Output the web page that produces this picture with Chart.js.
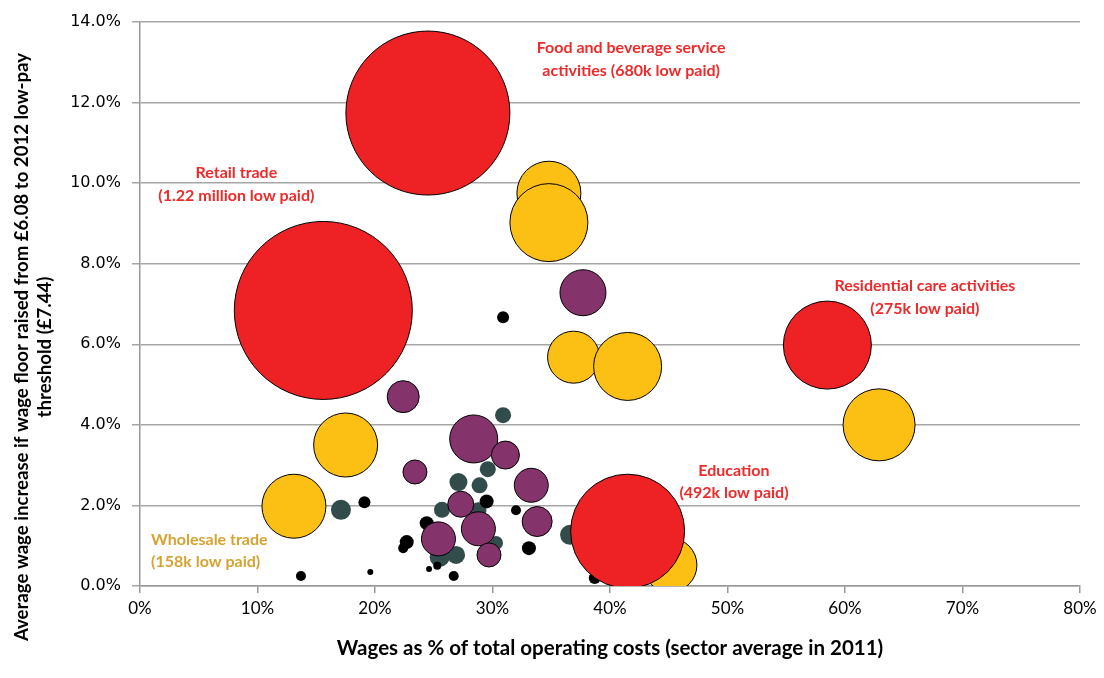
<!DOCTYPE html>
<html>
<head>
<meta charset="utf-8">
<script src="https://cdn.jsdelivr.net/npm/chart.js@4"></script>
<style>
  html, body { margin: 0; padding: 0; background: #fff; }
  #wrap { width: 1104px; height: 678px; }
</style>
</head>
<body>
<div id="wrap"><canvas id="chart"></canvas></div>
<script>
// wages as % of operating costs (x), avg wage increase % (y), bubble size (radius)
const redX = [24.5, 15.6, 58.5, 41.5];
const redY = [11.74, 6.84, 5.98, 1.36];
const redR = [82, 89, 44, 57];

const goldX = [34.8, 34.8, 36.9, 41.5, 62.9, 17.5, 13.1, 45.1];
const goldY = [9.75, 9.02, 5.68, 5.45, 4.0, 3.5, 1.98, 0.52];
const goldR = [32, 39, 26, 34, 36, 32, 32, 27];

const purpleX = [37.7, 22.4, 28.4, 31.1, 23.4, 33.3, 27.3, 33.8, 28.8, 25.4, 29.7];
const purpleY = [7.28, 4.7, 3.65, 3.25, 2.83, 2.5, 2.03, 1.6, 1.42, 1.17, 0.77];
const purpleR = [23, 16, 24, 14, 12, 17, 13, 15, 17, 17, 12];

const tealX = [30.9, 29.6, 27.1, 28.9, 17.1, 25.7, 28.8, 30.3, 26.9, 25.5, 36.6, 46.6, 24.8];
const tealY = [4.24, 2.9, 2.58, 2.5, 1.89, 1.89, 1.88, 1.07, 0.77, 0.72, 1.27, 0.7, 1.35];
const tealR = [8, 8, 9, 8, 10, 8, 8, 7, 9, 10, 10, 8, 8];

const blackX = [30.9, 19.1, 29.5, 32.0, 24.4, 22.7, 22.4, 33.1, 19.6, 24.6, 25.3, 26.7, 13.7, 38.7];
const blackY = [6.67, 2.08, 2.1, 1.88, 1.56, 1.09, 0.94, 0.94, 0.35, 0.42, 0.5, 0.25, 0.25, 0.2];
const blackR = [6, 6, 7, 5, 7, 7, 5, 7, 3, 3, 4, 5, 5, 6];

const xTicks = [0, 10, 20, 30, 40, 50, 60, 70, 80];
const yTicks = [0, 2, 4, 6, 8, 10, 12, 14];

const calloutText = [
  ['Food and beverage service', 'activities (680k low paid)'],
  ['Retail trade', '(1.22 million low paid)'],
  ['Residential care activities', '(275k low paid)'],
  ['Education', '(492k low paid)'],
  ['Wholesale trade', '(158k low paid)']
];
const calloutAt = [[41.8, 13.35], [8.2, 10.25], [66.8, 7.44], [50.55, 2.87], [0.94, 1.15]];
const calloutAlign = ['center', 'center', 'center', 'center', 'left'];
const calloutColor = ['#ee2a2a', '#ee2a2a', '#ee2a2a', '#ee2a2a', '#d6a332'];

const FONT = 'Lato, "Roboto", sans-serif';

const pts = (xs, ys, rs) => xs.map((x, i) => ({ x: x, y: ys[i], r: rs[i] }));

const callouts = {
  id: 'callouts',
  afterDatasetsDraw(chart) {
    const { ctx, scales: { x, y } } = chart;
    ctx.save();
    ctx.font = 'bold 16px ' + FONT;
    ctx.textBaseline = 'middle';
    calloutText.forEach((lines, i) => {
      ctx.fillStyle = calloutColor[i];
      ctx.textAlign = calloutAlign[i];
      const px = x.getPixelForValue(calloutAt[i][0]);
      const py = y.getPixelForValue(calloutAt[i][1]);
      lines.forEach((t, j) => ctx.fillText(t, px, py + j * 22.5));
    });
    ctx.restore();
  }
};

// y axis title sits lower than the plot centre in the original
const yTitle = {
  id: 'yTitle',
  afterDraw(chart) {
    const { ctx } = chart;
    ctx.save();
    ctx.font = 'bold 18.6px ' + FONT;
    ctx.fillStyle = '#000';
    ctx.textAlign = 'center';
    ctx.textBaseline = 'middle';
    ctx.translate(22, 347);
    ctx.rotate(-Math.PI / 2);
    ctx.fillText('Average wage increase if wage floor raised from \u00a36.08 to 2012 low-pay', 0, 0);
    ctx.fillText('threshold (\u00a37.44)', 0, 23);
    ctx.restore();
  }
};

// Chart.js paints dataset 0 on top, so the big red sectors come first
new Chart(document.getElementById('chart'), {
  type: 'bubble',
  data: {
    datasets: [
      { data: pts(redX, redY, redR), backgroundColor: '#ee2224', borderColor: '#000', borderWidth: 1 },
      { data: pts(goldX, goldY, goldR), backgroundColor: '#fcbf14', borderColor: '#000', borderWidth: 1 },
      { data: pts(purpleX, purpleY, purpleR), backgroundColor: '#84336b', borderColor: '#000', borderWidth: 1 },
      { data: pts(blackX, blackY, blackR), backgroundColor: '#000', borderWidth: 0 },
      { data: pts(tealX, tealY, tealR), backgroundColor: '#324b4b', borderWidth: 0 }
    ]
  },
  options: {
    responsive: true,
    maintainAspectRatio: false,
    animation: false,
    events: [],
    layout: { autoPadding: false, padding: { left: 0, right: 24, top: 22, bottom: 0 } },
    plugins: { legend: { display: false }, tooltip: { enabled: false } },
    scales: {
      x: {
        type: 'linear', min: 0, max: 80,
        afterBuildTicks: s => { s.ticks = xTicks.map(v => ({ value: v })); },
        afterFit: s => { s.height = 92; },
        grid: { drawOnChartArea: false, drawTicks: true, tickLength: 7, color: '#999', lineWidth: 1.5 },
        border: { color: '#999', width: 1.5 },
        ticks: { color: '#000', font: { family: FONT, size: 17 }, padding: 5, maxRotation: 0, callback: v => v + '%' },
        title: {
          display: true, text: 'Wages as % of total operating costs (sector average in 2011)',
          color: '#000', font: { family: FONT, size: 20.5, weight: 'bold' }, padding: { top: 0, bottom: 17 }
        }
      },
      y: {
        type: 'linear', min: 0, max: 14,
        afterBuildTicks: s => { s.ticks = yTicks.map(v => ({ value: v })); },
        afterFit: s => { s.width = 140; },
        grid: { color: '#a6a6a6', lineWidth: 1.5, tickLength: 8 },
        border: { color: '#999', width: 1.5 },
        ticks: { color: '#000', font: { family: '"DejaVu Sans", sans-serif', size: 16 }, padding: 11, callback: v => v.toFixed(1) + '%' }
      }
    }
  },
  plugins: [callouts, yTitle]
});
</script>
</body>
</html>
